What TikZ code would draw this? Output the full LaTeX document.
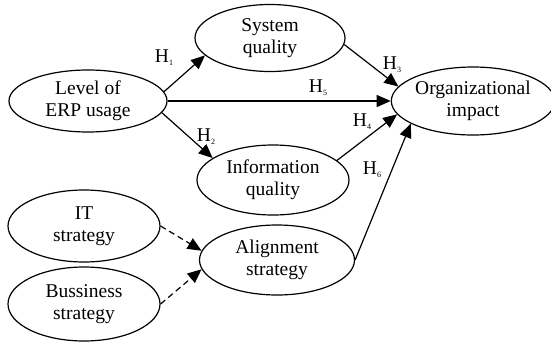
\documentclass[tikz,border=0pt]{standalone}
\usepackage{fontspec}
\setmainfont{Liberation Serif}
\usetikzlibrary{shapes.geometric,arrows.meta}
\tikzset{
  var/.style={ellipse,draw,line width=1.2pt,inner sep=0pt,align=center,
    font=\fontsize{19.5}{22}\selectfont},
  link/.style={line width=1.2pt,-{Triangle[length=14pt,width=12pt]}},
  dlink/.style={link,dash pattern=on 6pt off 4pt},
  hlab/.style={font=\fontsize{19.5}{22}\selectfont,inner sep=0pt}
}
\newcommand{\hyp}[1]{H\raisebox{-0.35ex}{\fontsize{8}{8}\selectfont #1}}
\begin{document}
\begin{tikzpicture}[x=1pt,y=-1pt]
\useasboundingbox (0,0) rectangle (551,343);
\node[var,minimum width=158pt,minimum height=62pt] (erp) at (88,101) {Level of\\ERP usage};
\node[var,minimum width=150pt,minimum height=67pt] (sys) at (270,38) {System\\quality};
\node[var,minimum width=150pt,minimum height=68pt] (org) at (473,101) {Organizational\\impact};
\node[var,minimum width=152pt,minimum height=70pt] (info) at (273,180) {Information\\quality};
\node[var,minimum width=155pt,minimum height=70pt] (align) at (277,260) {Alignment\\strategy};
\node[var,minimum width=152pt,minimum height=72pt] (it) at (84,226) {IT\\strategy};
\node[var,minimum width=152pt,minimum height=74pt] (bus) at (84,304) {Bussiness\\strategy};

\draw[link] (erp.7) -- (sys.195);
\draw[link] (erp.-9) -- (info.160);
\draw[link] (erp.east) -- (org.west);
\draw[link] (sys.-5) -- (org.169);
\draw[link] (info.17) -- (org.190);
\draw[link] (align.east) -- (org.200);
\draw[dlink] (it.east) -- (align.173);
\draw[dlink] (bus.east) -- (align.187);

\node[hlab] (h1) at (164,58) {\hyp{1}};
\node[hlab] (h2) at (206,137) {\hyp{2}};
\node[hlab] (h3) at (392,65) {\hyp{3}};
\node[hlab] (h4) at (362,122) {\hyp{4}};
\node[hlab] (h5) at (318,88) {\hyp{5}};
\node[hlab] (h6) at (372,170) {\hyp{6}};
\end{tikzpicture}
\end{document}
